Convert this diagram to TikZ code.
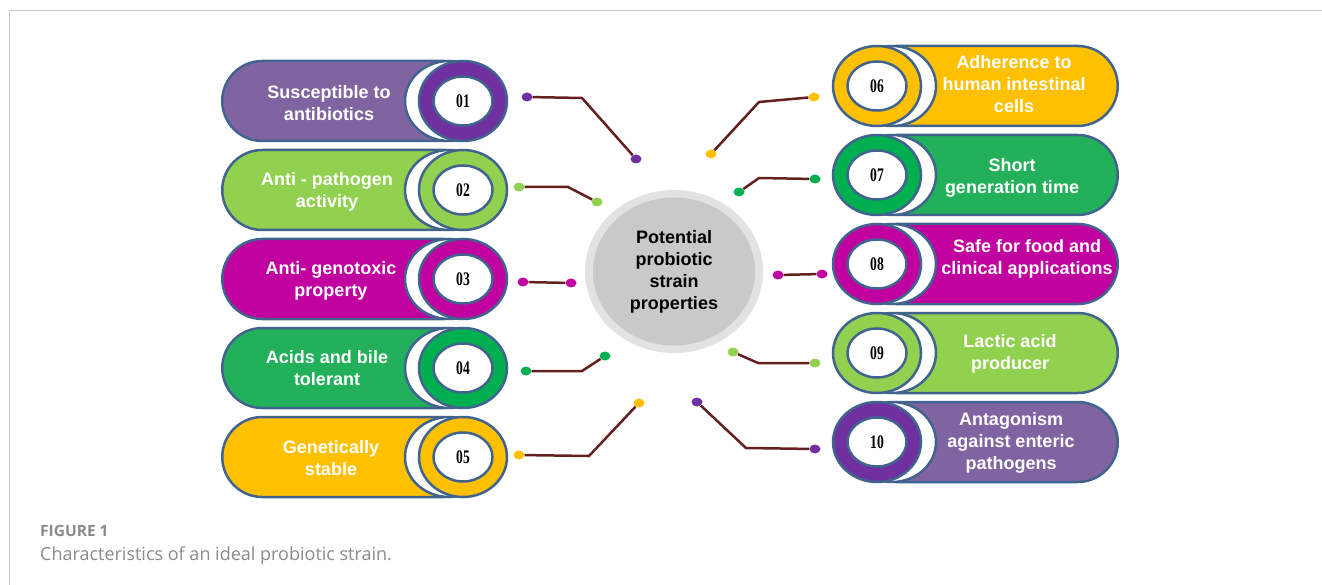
\documentclass[tikz,border=0pt]{standalone}
\usepackage{fontspec}
\setmainfont{Liberation Serif}
\setsansfont{Liberation Sans}
\newfontfamily\capfont{Open Sans}
\usepackage{tikz}
\usetikzlibrary{shapes.misc,shapes.geometric}

\definecolor{edgeblue}{HTML}{41648F}
\definecolor{violetpill}{HTML}{8064A2}
\definecolor{violetring}{HTML}{7030A0}
\definecolor{limegreen}{HTML}{92D050}
\definecolor{magentapill}{HTML}{C0009F}
\definecolor{greenpill}{HTML}{22B05A}
\definecolor{greenring}{HTML}{00B050}
\definecolor{goldpill}{HTML}{FFC000}
\definecolor{linkbrown}{HTML}{62201F}
\definecolor{framegray}{HTML}{C8C8C8}
\definecolor{captiongray}{HTML}{8A8A8A}
\definecolor{hubouter}{HTML}{E2E2E2}
\definecolor{hubinner}{HTML}{C9C9C9}

\newcommand{\numtag}[1]{\scalebox{0.85}[1.2]{#1}}

\begin{document}
\begin{tikzpicture}[x=1pt,y=-1pt,
  pill/.style={draw=edgeblue,line width=2.5pt,rounded rectangle,minimum width=221pt,minimum height=80pt,inner sep=0pt},
  leftpill/.style={pill,rounded rectangle right arc=none,anchor=west},
  rightpill/.style={pill,rounded rectangle left arc=none,anchor=east},
  pilltext/.style={text=white,font=\sffamily\bfseries\fontsize{18}{22}\selectfont,inner sep=0pt},
  gap/.style={draw=edgeblue,line width=2.5pt,fill=white,ellipse,minimum width=88pt,minimum height=80pt,inner sep=0pt},
  ring/.style={gap},
  num/.style={draw=edgeblue,line width=2.5pt,fill=white,ellipse,minimum width=59pt,minimum height=49pt,
    inner sep=0pt,font=\rmfamily\bfseries\fontsize{16}{16}\selectfont},
  dot/.style={ellipse,minimum width=11pt,minimum height=9pt,inner sep=0pt},
  link/.style={linkbrown,line width=2.5pt},
  caption/.style={anchor=base west,inner sep=0pt,text=captiongray},
  every node/.style={align=center}]

  \useasboundingbox (0,0) rectangle (1322,585);
  \draw[framegray,line width=1pt] (9.5,585) -- (9.5,11) -- (1322,11);

  % Central hub
  \node[ellipse,fill=hubouter,minimum width=178pt,minimum height=163pt] (hubback) at (674,271.5) {};
  \node[ellipse,fill=hubinner,minimum width=162pt,minimum height=148pt,
    font=\sffamily\bfseries\fontsize{18}{22}\selectfont] (hub) at (674,271.5)
    {Potential\\probiotic\\strain\\properties};

  % Left column
  \node[leftpill,fill=violetpill] (p1) at (221,101) {};
  \node[pilltext] (t1) at (329,103) {Susceptible to\\antibiotics};
  \node[gap] (g1) at (449,101) {};
  \node[ring,fill=violetring] (r1) at (463,101) {};
  \node[num] (n1) at (463,101) {\numtag{01}};

  \node[leftpill,fill=limegreen] (p2) at (221,190) {};
  \node[pilltext] (t2) at (327,192) {Anti - pathogen\\activity};
  \node[gap] (g2) at (449,190) {};
  \node[ring,fill=limegreen] (r2) at (463,190) {};
  \node[num] (n2) at (463,190) {\numtag{02}};

  \node[leftpill,fill=magentapill] (p3) at (221,279) {};
  \node[pilltext] (t3) at (331,281) {Anti- genotoxic\\property};
  \node[gap] (g3) at (449,279) {};
  \node[ring,fill=magentapill] (r3) at (463,279) {};
  \node[num] (n3) at (463,279) {\numtag{03}};

  \node[leftpill,fill=greenpill] (p4) at (221,368) {};
  \node[pilltext] (t4) at (327,368) {Acids and bile\\tolerant};
  \node[gap] (g4) at (449,368) {};
  \node[ring,fill=greenring] (r4) at (463,368) {};
  \node[num] (n4) at (463,368) {\numtag{04}};

  \node[leftpill,fill=goldpill] (p5) at (221,457) {};
  \node[pilltext] (t5) at (331,458) {Genetically\\stable};
  \node[gap] (g5) at (449,457) {};
  \node[ring,fill=goldpill] (r5) at (463,457) {};
  \node[num] (n5) at (463,457) {\numtag{05}};

  % Right column
  \node[rightpill,fill=goldpill] (p6) at (1119,86) {};
  \node[pilltext] (t6) at (1014,84) {Adherence to\\human intestinal\\cells};
  \node[gap] (g6) at (892,86) {};
  \node[ring,fill=goldpill] (r6) at (877,86) {};
  \node[num] (n6) at (877,86) {\numtag{06}};

  \node[rightpill,fill=greenpill] (p7) at (1119,175) {};
  \node[pilltext] (t7) at (1012,178) {Short\\generation time};
  \node[gap] (g7) at (892,175) {};
  \node[ring,fill=greenring] (r7) at (877,175) {};
  \node[num] (n7) at (877,175) {\numtag{07}};

  \node[rightpill,fill=magentapill] (p8) at (1119,264) {};
  \node[pilltext] (t8) at (1027,259) {Safe for food and\\clinical applications};
  \node[gap] (g8) at (892,264) {};
  \node[ring,fill=magentapill] (r8) at (877,264) {};
  \node[num] (n8) at (877,264) {\numtag{08}};

  \node[rightpill,fill=limegreen] (p9) at (1119,353) {};
  \node[pilltext] (t9) at (1010,354) {Lactic acid\\producer};
  \node[gap] (g9) at (892,353) {};
  \node[ring,fill=limegreen] (r9) at (877,353) {};
  \node[num] (n9) at (877,353) {\numtag{09}};

  \node[rightpill,fill=violetpill] (p10) at (1119,442) {};
  \node[pilltext] (t10) at (1011,443) {Antagonism\\against enteric\\pathogens};
  \node[gap] (g10) at (892,442) {};
  \node[ring,fill=violetring] (r10) at (877,442) {};
  \node[num] (n10) at (877,442) {\numtag{10}};

  % Connector end dots
  \node[dot,fill=violetring] (d1a) at (527,97) {};
  \node[dot,fill=violetring] (d1b) at (636,159) {};
  \node[dot,fill=limegreen] (d2a) at (519,187) {};
  \node[dot,fill=limegreen] (d2b) at (597,202) {};
  \node[dot,fill=magentapill] (d3a) at (523,282) {};
  \node[dot,fill=magentapill] (d3b) at (571,283) {};
  \node[dot,fill=greenring] (d4a) at (526,371) {};
  \node[dot,fill=greenring] (d4b) at (605,356) {};
  \node[dot,fill=goldpill] (d5a) at (519,455) {};
  \node[dot,fill=goldpill] (d5b) at (639,403) {};
  \node[dot,fill=goldpill] (d6a) at (814,97) {};
  \node[dot,fill=goldpill] (d6b) at (711,154) {};
  \node[dot,fill=greenring] (d7a) at (815,179) {};
  \node[dot,fill=greenring] (d7b) at (739,192) {};
  \node[dot,fill=magentapill] (d8a) at (822,274) {};
  \node[dot,fill=magentapill] (d8b) at (778,275) {};
  \node[dot,fill=limegreen] (d9a) at (815,363) {};
  \node[dot,fill=limegreen] (d9b) at (733,352) {};
  \node[dot,fill=violetring] (d10a) at (815,449) {};
  \node[dot,fill=violetring] (d10b) at (697,402) {};

  % Bends of the connectors
  \coordinate (b1) at (582,98);
  \coordinate (b2) at (568,187);
  \coordinate (b4) at (582,371);
  \coordinate (b5) at (589,456);
  \coordinate (b6) at (759,102);
  \coordinate (b7) at (759,178);
  \coordinate (b9) at (758,363);
  \coordinate (b10) at (746,448);

  % Connectors
  \draw[link] (d1a) -- (b1) -- (d1b);
  \draw[link] (d2a) -- (b2) -- (d2b);
  \draw[link] (d3a) -- (d3b);
  \draw[link] (d4a) -- (b4) -- (d4b);
  \draw[link] (d5a) -- (b5) -- (d5b);
  \draw[link] (d6a) -- (b6) -- (d6b);
  \draw[link] (d7a) -- (b7) -- (d7b);
  \draw[link] (d8a) -- (d8b);
  \draw[link] (d9a) -- (b9) -- (d9b);
  \draw[link] (d10a) -- (b10) -- (d10b);

  % Caption
  \node[caption,font=\capfont\bfseries\fontsize{15.5}{16}\selectfont] (figlabel) at (40,536) {FIGURE 1};
  \node[caption,font=\capfont\fontsize{18}{18}\selectfont] (figtext) at (40,560) {Characteristics of an ideal probiotic strain.};
\end{tikzpicture}
\end{document}
